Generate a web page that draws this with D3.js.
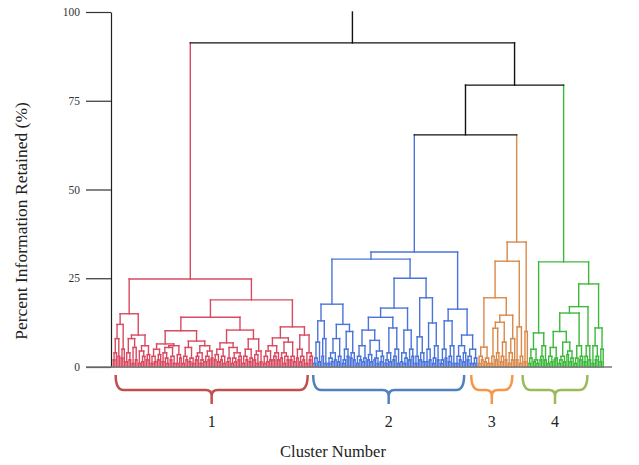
<!DOCTYPE html>
<html>
<head>
<meta charset="utf-8">
<script src="https://cdn.jsdelivr.net/npm/d3@7"></script>
<style>
body { margin: 0; background: #fff; }
svg { display: block; }
</style>
</head>
<body>
<script>
// y axis ticks and labels
var yTicks = [0, 25, 50, 75, 100];
var clusterLabels = ["1", "2", "3", "4"];
var clusterColors = ["#d84a60", "#4a74d9", "#d9894a", "#3cb93c"];
var braceColors = ["#c0504d", "#4f81bd", "#f79646", "#9bbb59"];
// brace extents, in leaf index units
var braceFrom = [1.5, 126.5, 226.5, 259];
var braceTo = [123, 222, 252.5, 300];
var rootTop = 100;

// merges above the four clusters: (#k = cluster k), heights in %
var upperTree = "(#0,((#1,#2)65.4,#3)79.4)91.3";

// each cluster: "(a,b)h" merge at height h, "o" = one leaf
var cluster1Tree =
  "(" +
    "(((((o,o)2,o)4,(o,o)3)8,((o,o)2.5,o)5)12," +
     "((((o,o)1.5,(o,o)2)4,((o,o)1,(o,o)2)5.5)8,(((o,o)1,((o,o)1.5,o)3)4.5,((o,o)2,o)3.5)6)9)15," +
    "(((" +
       "((((o,o)1,(o,o)1.5)3,((o,o)2,o)3.5)5,((((o,o)1.5,(o,(o,o)1)2.5)4,((o,o)2,(o,o)1)3)5.5,((o,o)1,(o,o)2.5)3.5)6)6.5," +
       "((((o,o)1,(o,o)2)3,((o,o)1.5,(o,o)1)2.5)5.5,((((o,o)2,o)3,((o,o)1,o)2)4,(((o,o)1.5,(o,o)2)3,(o,o)2.5)4.5)6)7.3" +
      ")10.2,(" +
       "((((o,o)2,(o,o)1.5)3.5,((o,o)2,(o,o)1)3)5,(((o,o)1.5,o)2.5,(((o,o)1,(o,o)1.5)2.5,((o,o)2,o)3)4)5.5)6.8," +
       "((((o,o)1,(o,o)2)3,((o,o)1.5,o)2.5)5,(((o,o)2,(o,o)1)3.5,(o,o)1.5)4.5)7.9" +
      ")10.4)14,(" +
       "(((((o,o)1,(o,o)1.5)3,(o,o)2)4.5,(((o,o)2,o)3,(o,o)2)4)6,(((o,o)2.5,((o,o)1,(o,o)2)3)4,((o,o)2,(o,o)1.5)3)7)8.2," +
       "(((o,o)2.5,((o,o)1.5,(o,o)2)3)5,((o,o)1,((o,o)2,o)3)4)9" +
      ")11.3)18.9" +
  ")24.8";

var cluster2Tree =
  "(((" +
      "((((o,o)1,o)2.5,(o,o)1.5)7,((o,o)3,(o,o)1)8)13," +
      "(((((o,o)1,(o,o)1.5)2.5,(o,o)2)4,((o,o)1.5,o)3)8,((((o,o)1,o)2,(o,o)3)5,((o,o)2.5,(o,o)2)4)10)12" +
    ")17.7,(((" +
      "((((o,o)1,(o,o)2)3,((o,o)1.5,o)2.5)6,(((o,o)2,(o,o)1.5)3.5,(((o,o)2,(o,o)1)2.5,((o,o)1.5,o)3)4.5)7.5)10.4," +
      "((((o,o)1,o)2,(o,o)1.5)4,(((o,o)2,o)3,(o,o)1)5)11" +
     ")14,(((o,o)1.5,((o,o)1,o)2.5)4,((o,o)2,(o,o)3)5)10.4)16.6,(" +
      "(((o,o)1,o)3,((o,o)2,(o,o)1.5)4)8.5," +
      "(((o,o)1.5,(o,o)2)5,(((o,o)1,o)2.5,(o,o)2)6)12.4" +
     ")19.5)25)30.4,(" +
    "((((o,o)1,o)2,(o,o)2.5)5,(((o,o)1.5,o)3,(o,o)1)6)13," +
    "((((o,o)1,(o,o)2)3,((o,o)1.5,o)4)6,(((o,o)2,(o,o)1)3,((o,o)1,o)2.5)5)9" +
  ")16.3)32.4";

var cluster3Tree =
  "(((" +
      "(((o,o)1,(o,o)2)3,((o,o)1.5,(o,o)1)2.5)5.6," +
      "(((((o,o)1,o)3,((o,o)2,o)4)10.9,(((o,o)1.5,o)3,(o,o)2)7)12.6,(((o,o)1,(o,o)2)4,o)8)14.6" +
    ")19.5,((o,o)2,((o,o)1,o)3)11.3)29.8," +
    "((o,o)1.5,o)10" +
  ")35.2";

var cluster4Tree =
  "(" +
    "((((o,o)1,o)2.5,((o,o)1.5,(o,o)1)2)5,(((o,o)2,o)3,(o,o)2)6)9.6,(((" +
      "((((o,o)1,(o,o)1.5)3,((o,o)2,o)2.5)5.5,((((o,o)1,o)2,(o,o)1.5)3,((o,o)3.5,((o,o)1.5,o)2.5)4.5)7)10," +
      "(((o,o)1,o)2.5,((o,o)2,o)3)6" +
     ")15.2,(((o,o)1.5,o)3,(o,o)2)6)17," +
     "(((o,o)1,((o,o)2,o)3)6,((o,o)1.5,o)5)11" +
    ")23.4" +
  ")29.6";

var clusterTrees = [cluster1Tree, cluster2Tree, cluster3Tree, cluster4Tree];

function parseTree(s, cl) {
  var i = 0;
  function node() {
    var c = s[i];
    if (c === "(") {
      i++;
      var a = node();
      if (s[i] !== ",") throw new Error("expected , at " + i + ": " + s.slice(i - 15, i + 5));
      i++;
      var b = node();
      if (s[i] !== ")") throw new Error("expected ) at " + i + ": " + s.slice(i - 15, i + 5));
      i++;
      var m = /^[0-9.]+/.exec(s.slice(i));
      i += m[0].length;
      return {h: +m[0], cluster: cl, children: [a, b]};
    }
    if (c === "#") {
      var k = +s[i + 1];
      i += 2;
      return parseTree(clusterTrees[k], k);
    }
    if (c === "o") { i++; return {h: 0, cluster: cl}; }
    throw new Error("bad char " + c + " at " + i);
  }
  var t = node();
  if (i !== s.length) throw new Error("trailing text at " + i);
  return t;
}

var width = 639, height = 465;
var svg = d3.select("body").append("svg")
  .attr("width", width)
  .attr("height", height);

var root = d3.hierarchy(parseTree(upperTree, -1));
var leaves = root.leaves();
leaves.forEach(function (d, i) { d.idx = i; });

var x = d3.scaleLinear().domain([-0.5, leaves.length - 0.5]).range([112.5, 604]);
var y = d3.scaleLinear().domain([0, 100]).range([367, 12]);

root.eachAfter(function (d) {
  d.pos = d.children ? d3.mean(d.children, function (c) { return c.pos; }) : d.idx;
});

function colorOf(d) {
  return d.data.cluster >= 0 ? clusterColors[d.data.cluster] : "#111";
}

var tree = svg.append("g")
  .attr("fill", "none")
  .attr("stroke-width", 1.4)
  .attr("stroke-linecap", "square");

// vertical legs
tree.selectAll("line.v")
  .data(root.descendants())
  .join("line")
  .attr("class", "v")
  .attr("x1", function (d) { return x(d.pos); })
  .attr("x2", function (d) { return x(d.pos); })
  .attr("y1", function (d) { return y(d.data.h); })
  .attr("y2", function (d) { return y(d.parent ? d.parent.data.h : rootTop); })
  .attr("stroke", colorOf);

// horizontal joins
tree.selectAll("line.h")
  .data(root.descendants().filter(function (d) { return d.children; }))
  .join("line")
  .attr("class", "h")
  .attr("x1", function (d) { return x(d.children[0].pos); })
  .attr("x2", function (d) { return x(d.children[1].pos); })
  .attr("y1", function (d) { return y(d.data.h); })
  .attr("y2", function (d) { return y(d.data.h); })
  .attr("stroke", colorOf);

// axis
var axis = svg.append("g")
  .attr("transform", "translate(111,0)")
  .call(d3.axisLeft(y).tickValues(yTicks).tickSize(25).tickSizeOuter(0).tickPadding(6));
axis.select(".domain").attr("stroke", "#222").attr("stroke-width", 1.2);
axis.selectAll(".tick line").attr("stroke", "#333").attr("stroke-width", 1.2);
axis.selectAll(".tick text")
  .attr("font-family", "Liberation Serif, serif")
  .attr("font-size", 11.5)
  .attr("fill", "#333");

svg.append("line")
  .attr("x1", 86).attr("x2", 612)
  .attr("y1", y(0)).attr("y2", y(0))
  .attr("stroke", "#777")
  .attr("stroke-width", 1.5);

// braces under the clusters
var braces = svg.append("g").attr("fill", "none").attr("stroke-width", 2.5);
clusterLabels.forEach(function (lab, k) {
  var x0 = x(braceFrom[k]), x1 = x(braceTo[k]), xc = (x0 + x1) / 2;
  var top = 375, mid = 390, tip = 404;
  var p = "M" + x0 + "," + top + " Q" + x0 + "," + mid + " " + (x0 + 8) + "," + mid +
    " L" + (xc - 6) + "," + mid + " Q" + xc + "," + mid + " " + xc + "," + (mid + 6) +
    " L" + xc + "," + tip +
    " M" + xc + "," + (mid + 6) + " Q" + xc + "," + mid + " " + (xc + 6) + "," + mid +
    " L" + (x1 - 8) + "," + mid + " Q" + x1 + "," + mid + " " + x1 + "," + top;
  braces.append("path").attr("d", p).attr("stroke", braceColors[k]);
  svg.append("text")
    .attr("x", xc)
    .attr("y", 427)
    .attr("text-anchor", "middle")
    .attr("font-family", "Liberation Serif, serif")
    .attr("font-size", 16)
    .attr("fill", "#222")
    .text(lab);
});

svg.append("text")
  .attr("x", 333)
  .attr("y", 457)
  .attr("text-anchor", "middle")
  .attr("font-family", "Liberation Serif, serif")
  .attr("font-size", 16.5)
  .attr("fill", "#222")
  .text("Cluster Number");

svg.append("text")
  .attr("transform", "translate(27,221) rotate(-90)")
  .attr("text-anchor", "middle")
  .attr("font-family", "Liberation Serif, serif")
  .attr("font-size", 17.5)
  .attr("fill", "#222")
  .text("Percent Information Retained (%)");
</script>
</body>
</html>
